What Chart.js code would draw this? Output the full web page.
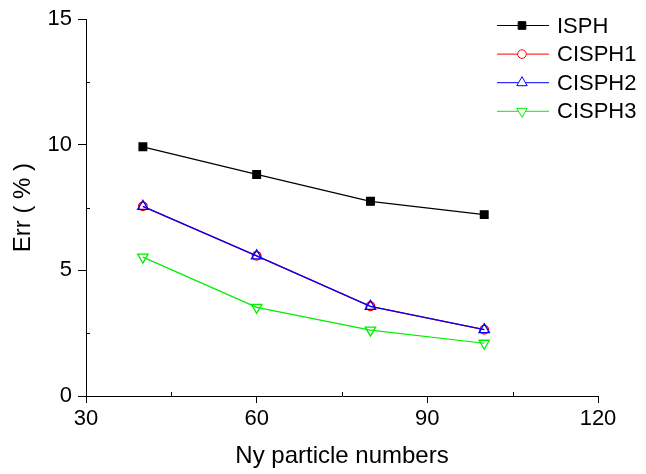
<!DOCTYPE html>
<html>
<head>
<meta charset="utf-8">
<script src="https://cdn.jsdelivr.net/npm/chart.js@4.4.0/dist/chart.umd.min.js"></script>
<style>
  html, body { margin: 0; padding: 0; background: #fff; }
  #wrap { width: 646px; height: 474px; }
</style>
</head>
<body>
<div id="wrap"><canvas id="chart" width="646" height="474"></canvas></div>
<script>
const particleNumbers = [40, 60, 80, 100];
const isph = [9.92, 8.82, 7.75, 7.22];
const cisph1 = [7.55, 5.58, 3.57, 2.64];
const cisph2 = [7.55, 5.58, 3.57, 2.64];
const cisph3 = [5.53, 3.53, 2.62, 2.1];

const xTicks = [30, 60, 90, 120];
const xMinorTicks = [45, 75, 105];
const yMinorTicks = [2.5, 7.5, 12.5];

const fontFamily = '"Liberation Sans", Arial, Helvetica, sans-serif';

function points(ys) {
    return particleNumbers.map((x, i) => ({ x: x, y: ys[i] }));
}

const seriesList = [
    { label: 'ISPH', data: isph, color: '#000000', style: 'rect', radius: 5.4, fill: true, rot: 0, order: 0 },
    { label: 'CISPH1', data: cisph1, color: '#ff0000', style: 'circle', radius: 4.3, fill: false, rot: 0, order: 3 },
    { label: 'CISPH2', data: cisph2, color: '#0000ff', style: 'triangle', radius: 6, fill: false, rot: 0, order: 2 },
    { label: 'CISPH3', data: cisph3, color: '#00ee00', style: 'triangle', radius: 6, fill: false, rot: 180, order: 1 }
];

// minor ticks drawn inward, and the legend with line + marker
const extrasPlugin = {
    id: 'extras',
    afterDraw(chart) {
        const ctx = chart.ctx;
        const xs = chart.scales.x;
        const ys = chart.scales.y;
        const area = chart.chartArea;
        ctx.save();
        ctx.strokeStyle = '#000';
        ctx.lineWidth = 1;
        ctx.beginPath();
        xMinorTicks.forEach(v => {
            const px = Math.round(xs.getPixelForValue(v)) + 0.5;
            ctx.moveTo(px, area.bottom);
            ctx.lineTo(px, area.bottom - 4);
        });
        yMinorTicks.forEach(v => {
            const py = Math.round(ys.getPixelForValue(v)) + 0.5;
            ctx.moveTo(area.left, py);
            ctx.lineTo(area.left + 4, py);
        });
        ctx.stroke();

        // legend
        ctx.font = '22px ' + fontFamily;
        ctx.textBaseline = 'middle';
        ctx.textAlign = 'left';
        seriesList.forEach((s, i) => {
            const y = 25.5 + i * 28.6;
            ctx.strokeStyle = s.color;
            ctx.lineWidth = 1;
            ctx.beginPath();
            ctx.moveTo(497, y);
            ctx.lineTo(549, y);
            ctx.stroke();
            ctx.fillStyle = s.fill ? s.color : '#fff';
            Chart.helpers.drawPoint(ctx, {
                pointStyle: s.style,
                radius: s.radius,
                rotation: s.rot,
                borderWidth: 1.3
            }, 522, y);
            ctx.fillStyle = '#000';
            ctx.fillText(s.label, 557, y + 1);
        });
        ctx.restore();
    }
};

new Chart(document.getElementById('chart'), {
    type: 'line',
    data: {
        datasets: seriesList.map(s => ({
            label: s.label,
            data: points(s.data),
            borderColor: s.color,
            backgroundColor: s.fill ? s.color : '#ffffff',
            borderWidth: 1.2,
            pointStyle: s.style,
            pointRadius: s.radius,
            pointRotation: s.rot,
            pointBorderWidth: 1.3,
            pointBorderColor: s.color,
            pointBackgroundColor: s.fill ? s.color : 'rgba(0,0,0,0)',
            tension: 0,
            order: s.order
        }))
    },
    options: {
        responsive: false,
        animation: false,
        devicePixelRatio: 1,
        layout: { padding: { top: 16, right: 48, left: 0, bottom: 0 } },
        plugins: {
            legend: { display: false },
            tooltip: { enabled: false }
        },
        scales: {
            x: {
                type: 'linear',
                min: 30,
                max: 120,
                afterBuildTicks(scale) {
                    scale.ticks = xTicks.map(v => ({ value: v }));
                },
                afterFit(scale) { scale.height = 78; },
                grid: {
                    drawOnChartArea: false,
                    color: '#000',
                    tickLength: 7,
                    tickColor: '#000'
                },
                border: { color: '#000', width: 1 },
                ticks: {
                    color: '#000',
                    font: { family: fontFamily, size: 22 },
                    padding: 3,
                    maxRotation: 0
                },
                title: {
                    display: true,
                    text: 'Ny particle numbers',
                    color: '#000',
                    font: { family: fontFamily, size: 24 },
                    padding: { top: 0, bottom: 3 }
                }
            },
            y: {
                min: 0,
                max: 15,
                ticks: {
                    stepSize: 5,
                    color: '#000',
                    font: { family: fontFamily, size: 22 },
                    padding: 6
                },
                afterFit(scale) { scale.width = 86; },
                grid: {
                    drawOnChartArea: false,
                    color: '#000',
                    tickLength: 8,
                    tickColor: '#000'
                },
                border: { color: '#000', width: 1 },
                title: {
                    display: true,
                    text: 'Err ( % )',
                    color: '#000',
                    font: { family: fontFamily, size: 24 },
                    padding: { top: 9, bottom: 0 }
                }
            }
        }
    },
    plugins: [extrasPlugin]
});
</script>
</body>
</html>
